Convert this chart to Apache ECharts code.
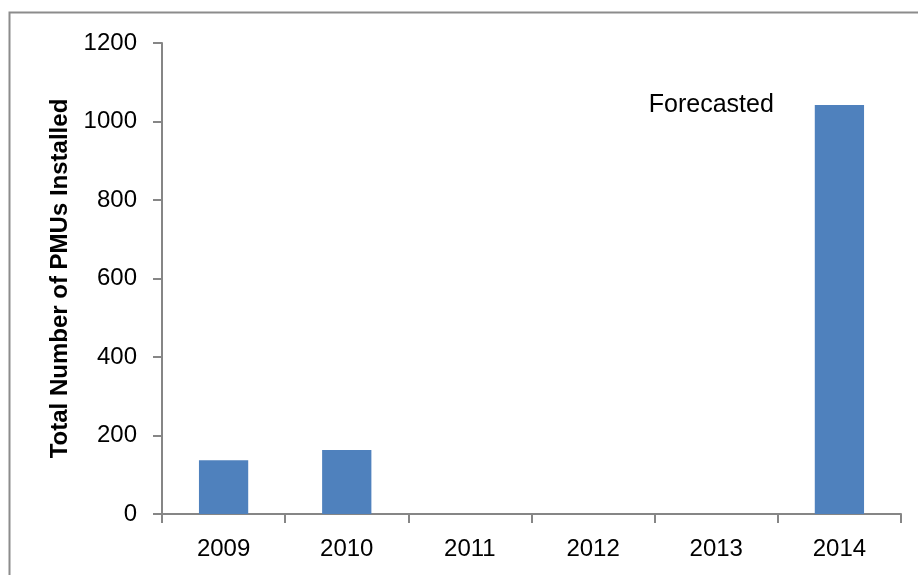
<!DOCTYPE html>
<html>
<head>
<meta charset="utf-8">
<script src="https://cdn.jsdelivr.net/npm/echarts@6/dist/echarts.min.js"></script>
<style>html,body{margin:0;padding:0;background:#fff}#c{width:918px;height:575px}</style>
</head>
<body>
<div id="c"></div>
<script>
const years = ['2009', '2010', '2011', '2012', '2013', '2014'];
const pmus = [137, 163, null, null, null, 1042];
const yTicks = { min: 0, max: 1200, interval: 200 };
const yTitle = 'Total Number of PMUs Installed';
const note = 'Forecasted';

const chart = echarts.init(document.getElementById('c'), null, { renderer: 'canvas' });
const font = "'Liberation Sans', Arial, sans-serif";
const axisCol = '#868686';
chart.setOption({
  animation: false,
  backgroundColor: '#fff',
  grid: { left: 162, right: 17, top: 43, bottom: 61 },
  graphic: [{
    type: 'polyline',
    shape: { points: [[9.5, 575], [9.5, 12.5], [918, 12.5]] },
    style: { stroke: '#8c8c8c', lineWidth: 2, fill: null }
  }],
  xAxis: {
    type: 'category',
    data: years,
    axisLine: { lineStyle: { color: axisCol, width: 2 } },
    axisTick: { show: true, length: 9, lineStyle: { color: axisCol, width: 2 } },
    axisLabel: { color: '#000', fontFamily: font, fontSize: 24, margin: 23 }
  },
  yAxis: {
    type: 'value',
    min: yTicks.min, max: yTicks.max, interval: yTicks.interval,
    name: yTitle,
    nameLocation: 'middle',
    nameGap: 90,
    nameTextStyle: { color: '#000', fontFamily: font, fontSize: 24, fontWeight: 'bold' },
    axisLine: { show: true, lineStyle: { color: axisCol, width: 2 } },
    axisTick: { show: true, length: 9, lineStyle: { color: axisCol, width: 2 } },
    splitLine: { show: false },
    axisLabel: { color: '#000', fontFamily: font, fontSize: 24, margin: 25, formatter: v => String(v) }
  },
  series: [{
    type: 'bar',
    barWidth: '40%',
    itemStyle: { color: '#4F81BD' },
    data: pmus.map((v, i) => i === pmus.length - 1 ? {
      value: v,
      label: {
        show: true, formatter: note, position: [-41, 0],
        align: 'right', verticalAlign: 'middle',
        color: '#000', fontFamily: font, fontSize: 25
      }
    } : (v === null ? '-' : v))
  }]
});
</script>
</body>
</html>
